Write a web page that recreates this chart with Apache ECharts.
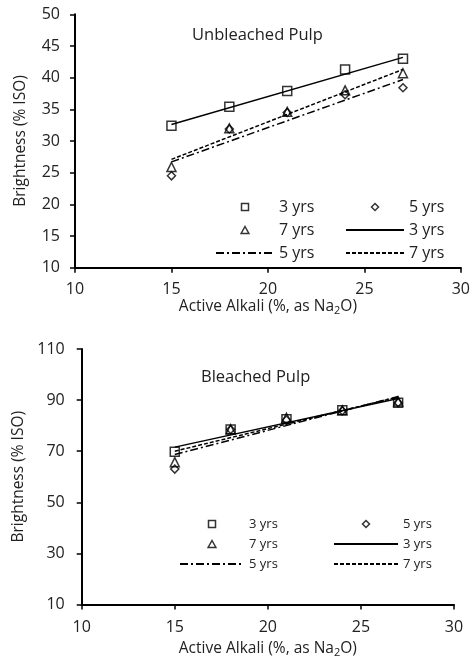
<!DOCTYPE html>
<html>
<head>
<meta charset="utf-8">
<script src="https://cdn.jsdelivr.net/npm/echarts@6/dist/echarts.min.js"></script>
<style>html,body{margin:0;padding:0;background:#fff}#c{width:473px;height:663px}</style>
</head>
<body>
<div id="c"></div>
<script>
// Active alkali charge (%, as Na2O)
const alkali = [15, 18, 21, 24, 27];
const trendX = [15, 27];
// Unbleached pulp brightness (% ISO)
const unb3 = [32.4, 35.4, 37.9, 41.3, 43.0];
const unb5 = [24.5, 31.9, 34.5, 37.3, 38.4];
const unb7 = [25.9, 32.0, 34.6, 38.0, 40.7];
const unbTrend3 = [32.6, 43.2];
const unbTrend5 = [26.7, 39.7];
const unbTrend7 = [27.1, 41.3];
// Bleached pulp brightness (% ISO)
const bl3 = [69.8, 78.5, 82.5, 86.0, 89.0];
const bl5 = [63.0, 78.5, 82.2, 85.8, 89.0];
const bl7 = [65.7, 78.6, 83.1, 86.0, 89.5];
const blTrend3 = [71.6, 90.6];
const blTrend5 = [68.7, 91.4];
const blTrend7 = [70.0, 91.2];
// Tick settings
const xTicks = {min: 10, max: 30, interval: 5};
const yTicksTop = {min: 10, max: 50, interval: 5};
const yTicksBottom = {min: 10, max: 110, interval: 20};
const titles = ['Unbleached Pulp', 'Bleached Pulp'];
const legendNames = {s3: '3 yrs', s5: '5 yrs', s7: '7 yrs', l3: '3 yrs', l5: '5 yrs', l7: '7 yrs'};

const FONT = 'Open Sans';
const pairs = (xs, ys) => xs.map((x, i) => [x, ys[i]]);
const ICON_SQ = 'path://M0,0L10,0L10,10L0,10Z';
const ICON_DI = 'path://M5,0L10,5L5,10L0,5Z';
const ICON_TR = 'path://M5,0L10,9L0,9Z';
const mk = {color: 'rgba(0,0,0,0)', borderColor: '#000', borderWidth: 1.5};
const noSym = {color: 'rgba(0,0,0,0)', borderColor: 'rgba(0,0,0,0)', borderWidth: 0, opacity: 0};

function xAxis(gi, margin, gap) {
  return {
    type: 'value', gridIndex: gi, min: xTicks.min, max: xTicks.max, interval: xTicks.interval,
    splitLine: {show: false},
    axisLine: {show: true, lineStyle: {color: '#000', width: 2}},
    axisTick: {show: true, length: 5, lineStyle: {color: '#000', width: 1.5}},
    axisLabel: {color: '#222', fontFamily: FONT, fontSize: 16, margin: margin},
    name: 'Active Alkali (%, as Na{sub|2}O)', nameLocation: 'middle', nameGap: gap,
    nameTextStyle: {color: '#222', fontFamily: FONT, fontSize: 15.5,
      rich: {sub: {fontFamily: FONT, fontSize: 11, color: '#222', verticalAlign: 'bottom', padding: [8, 0, 0, 0]}}}
  };
}
function yAxis(gi, t, margin, gap) {
  return {
    type: 'value', gridIndex: gi, min: t.min, max: t.max, interval: t.interval,
    splitLine: {show: false},
    axisLine: {show: true, lineStyle: {color: '#000', width: 2}},
    axisTick: {show: true, length: 5, lineStyle: {color: '#000', width: 1.5}},
    axisLabel: {color: '#222', fontFamily: FONT, fontSize: 16, margin: margin},
    name: 'Brightness (% ISO)', nameLocation: 'middle', nameGap: gap,
    nameTextStyle: {color: '#222', fontFamily: FONT, fontSize: 15.5}
  };
}
function scat(name, gi, ys, symbol, size) {
  return {type: 'scatter', name: name, xAxisIndex: gi, yAxisIndex: gi, data: pairs(alkali, ys),
    symbol: symbol, symbolSize: size, itemStyle: mk, z: 2, silent: true};
}
function trend(name, gi, ys, type) {
  return {type: 'line', name: name, xAxisIndex: gi, yAxisIndex: gi, data: pairs(trendX, ys),
    symbol: 'none', lineStyle: {color: '#000', width: 1.5, type: type}, itemStyle: {color: '#000'}, z: 3, silent: true};
}
function legends(suffix, top, pitch, lh, fs, l1, l2, iw) {
  const ts = {fontFamily: FONT, fontSize: fs, color: '#222', lineHeight: lh};
  const base = {orient: 'vertical', top: top, padding: 0, itemGap: pitch - lh, itemWidth: iw, itemHeight: 7,
    selectedMode: false, textStyle: ts, formatter: n => legendNames[n.split('_')[0]], symbolKeepAspect: true};
  return [
    Object.assign({}, base, {left: l1, data: [
      {name: 's3_' + suffix, icon: ICON_SQ, itemStyle: mk},
      {name: 's7_' + suffix, icon: ICON_TR, itemStyle: mk},
      {name: 'l5_' + suffix, itemStyle: noSym}
    ]}),
    Object.assign({}, base, {left: l2, data: [
      {name: 's5_' + suffix, icon: ICON_DI, itemStyle: mk},
      {name: 'l3_' + suffix, itemStyle: noSym},
      {name: 'l7_' + suffix, itemStyle: noSym}
    ]})
  ];
}

const DASHDOT = [8, 3, 2, 3];
const DASH = [4, 2];

const option = {
  animation: false,
  backgroundColor: '#fff',
  title: [
    {text: titles[0], left: 187, top: 22, textStyle: {fontFamily: FONT, fontSize: 16.5, fontWeight: 'normal', color: '#222'}},
    {text: titles[1], left: 196, top: 364, textStyle: {fontFamily: FONT, fontSize: 16.5, fontWeight: 'normal', color: '#222'}}
  ],
  grid: [
    {left: 75, right: 12, top: 14.3, height: 253.4},
    {left: 81.7, right: 19, top: 349, height: 255.5}
  ],
  xAxis: [xAxis(0, 14, 28), xAxis(1, 15, 35)],
  yAxis: [yAxis(0, yTicksTop, 15, 46), yAxis(1, yTicksBottom, 17, 52)],
  legend: legends('u', 199, 23, 16, 16, 215, 345, 58).concat(legends('b', 517, 20, 14, 13, 179, 333, 64)),
  series: [
    scat('s3_u', 0, unb3, 'rect', 9),
    scat('s5_u', 0, unb5, 'diamond', 8),
    scat('s7_u', 0, unb7, 'triangle', 9),
    trend('l3_u', 0, unbTrend3, 'solid'),
    trend('l5_u', 0, unbTrend5, DASHDOT),
    trend('l7_u', 0, unbTrend7, DASH),
    scat('s3_b', 1, bl3, 'rect', 9),
    scat('s5_b', 1, bl5, 'diamond', 8),
    scat('s7_b', 1, bl7, 'triangle', 9),
    trend('l3_b', 1, blTrend3, 'solid'),
    trend('l5_b', 1, blTrend5, DASHDOT),
    trend('l7_b', 1, blTrend7, DASH)
  ]
};
const chart = echarts.init(document.getElementById('c'), null, {renderer: 'canvas'});
chart.setOption(option);
</script>
</body>
</html>
